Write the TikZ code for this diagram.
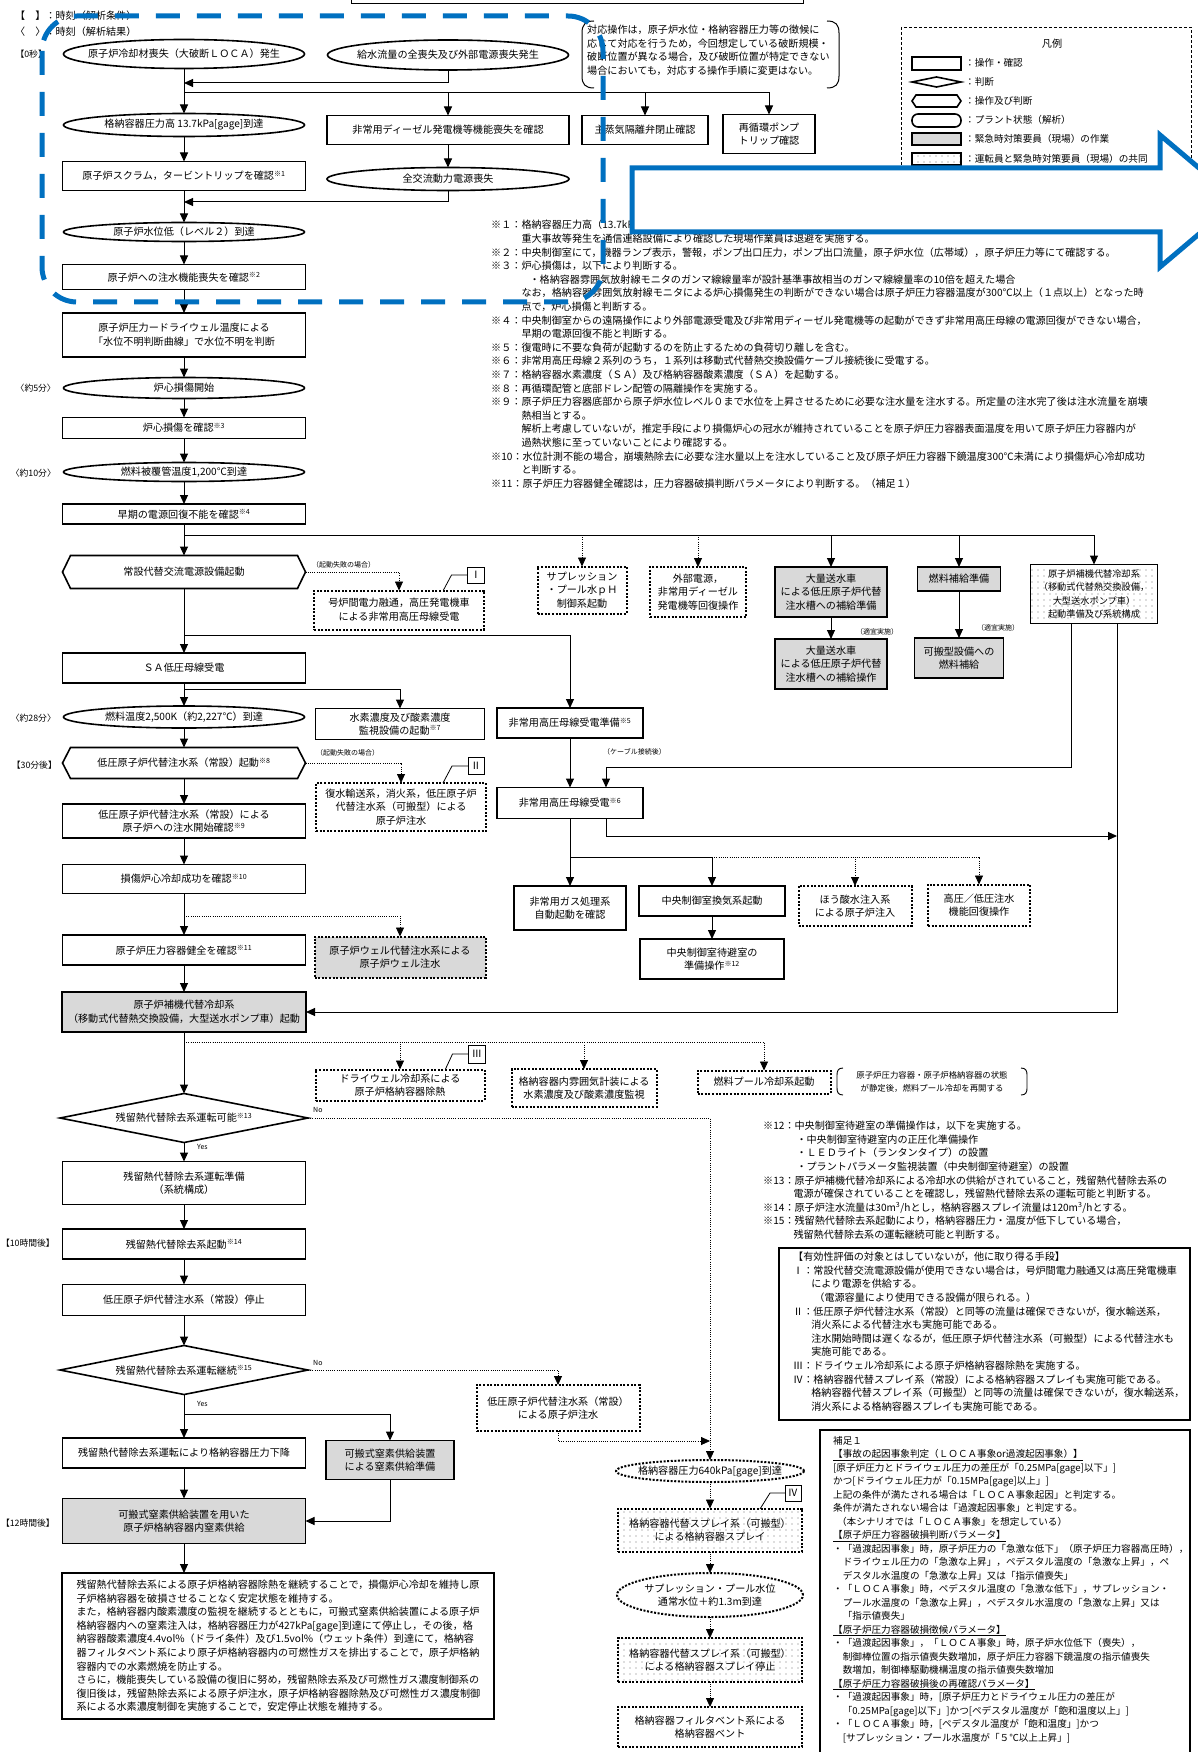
\documentclass[tikz,border=0pt]{standalone}
\usepackage{fontspec}
\setmainfont{Noto Sans CJK JP}
\usetikzlibrary{arrows.meta,patterns,calc}
\definecolor{bl}{RGB}{0,112,192}
\newcommand\fsz{\fontsize{10.1pt}{13.6pt}\selectfont}
\newcommand\fsq{\fontsize{9.6pt}{13.5pt}\selectfont}
\newcommand\fss{\fontsize{9.2pt}{13.3pt}\selectfont}
\newcommand\fsk{\fontsize{8.8pt}{11pt}\selectfont}
\newcommand\fst{\fontsize{7pt}{8pt}\selectfont}
\newcommand\fsb{\fontsize{8.4pt}{13pt}\selectfont}
\newcommand\sn[1]{\textsuperscript{※#1}}
\pgfdeclarepatternformonly{sparsedots}{\pgfqpoint{-1pt}{-1pt}}{\pgfqpoint{1pt}{1pt}}{\pgfqpoint{6pt}{6pt}}{\pgfpathcircle{\pgfqpoint{0pt}{0pt}}{0.55pt}\pgfusepath{fill}}
\tikzset{
 base/.style={font=\fsz, align=center, inner sep=0pt, outer sep=0pt},
 wh/.style 2 args={minimum width=#1pt, minimum height=#2pt},
 box/.style={base, draw, line width=1.6pt},
 gbox/.style={box, fill=black!15},
 dbox/.style={base, draw, line width=2pt, dash pattern=on 2pt off 1.6pt},
 pbox/.style={pattern=sparsedots, pattern color=black!55},
 hold/.style={base},
 sline/.style={line width=1.6pt},
 dotline/.style={line width=2pt, dash pattern=on 2pt off 1.6pt},
 ln/.style={line width=1pt},
 arr/.style={ln, -{Triangle[length=9pt,width=8pt]}},
 dln/.style={line width=0.8pt, dash pattern=on 1pt off 1.2pt},
 darr/.style={dln, -{Triangle[length=9pt,width=8pt]}},
 lbl/.style={font=\fst, inner sep=0pt, anchor=west},
 note/.style={font=\fsz, inner sep=0pt, anchor=west},
 tlab/.style={font=\fsk, inner sep=0pt, anchor=east},
 rom/.style={base, draw, line width=0.8pt},
 txt/.style={font=\fsz, align=left, inner sep=0pt, anchor=north west},
 leader/.style={line width=0.8pt},
}
\begin{document}
\begin{tikzpicture}[x=1pt,y=-1pt]
\useasboundingbox (0,0) rectangle (1198,1752);
\fill[white] (0,0) rectangle (1198,1752);

% ---------- top fragments ----------
\draw[line width=1pt] (351,-5) rectangle (803,4);
\node[note] (leg1) at (15,16) {【　】：時刻（解析条件）};
\node[note] (leg2) at (15,32) {〈　〉：時刻（解析結果）};
\node[tlab] (t0) at (47,54) {【0秒】};
\node[tlab] (t5) at (56,388) {〈約5分〉};
\node[tlab] (t10) at (56,473) {〈約10分〉};
\node[tlab] (t28) at (56,718) {〈約28分〉};
\node[tlab] (t30) at (57,765) {【30分後】};
\node[tlab] (t10h) at (55,1243) {【10時間後】};
\node[tlab] (t12h) at (55,1523) {【12時間後】};

% ---------- main column ----------
\node[hold,wh={241}{29}] (e1) at (184,54) {原子炉冷却材喪失（大破断ＬＯＣＡ）発生};
\node[hold,wh={241}{30}] (e2) at (448,55) {給水流量の全喪失及び外部電源喪失発生};
\node[hold,wh={241}{23}] (e3) at (184,125) {格納容器圧力高 13.7kPa[gage]到達};
\node[box,wh={242}{29}] (bdg) at (448,130) {非常用ディーゼル発電機等機能喪失を確認};
\node[box,wh={126}{29}] (bmsiv) at (645,130) {主蒸気隔離弁閉止確認};
\node[box,wh={92}{39}] (brcp) at (769,134) {再循環ポンプ\\トリップ確認};
\node[box,wh={243}{29}] (bscram) at (184,176) {原子炉スクラム，タービントリップを確認\sn{1}};
\node[hold,wh={242}{23}] (esbo) at (448,179) {全交流動力電源喪失};
\node[hold,wh={241}{19}] (el2) at (184,232) {原子炉水位低（レベル２）到達};
\node[box,wh={243}{25}] (binj) at (184,277) {原子炉への注水機能喪失を確認\sn{2}};
\node[box,wh={243}{44}] (bunk) at (184,335) {原子炉圧力ードライウェル温度による\\「水位不明判断曲線」で水位不明を判断};
\node[hold,wh={241}{21}] (ecd) at (184,388) {炉心損傷開始};
\node[box,wh={243}{21}] (bcd) at (184,428) {炉心損傷を確認\sn{3}};
\node[hold,wh={241}{19}] (e12) at (184,472) {燃料被覆管温度1,200℃到達};
\node[box,wh={243}{20}] (bpw) at (184,514) {早期の電源回復不能を確認\sn{4}};
\node[hold,wh={243}{33}] (hac) at (184,572) {常設代替交流電源設備起動};
\node[dbox,wh={170}{39}] (dI) at (399,610) {号炉間電力融通，高圧発電機車\\による非常用高圧母線受電};
\node[rom,wh={17}{16}] (rI) at (476,575) {Ⅰ};
\node[box,wh={243}{30}] (bsa) at (184,668) {ＳＡ低圧母線受電};
\node[hold,wh={241}{22}] (e25) at (184,717) {燃料温度2,500K（約2,227℃）到達};
\node[box,wh={169}{31}] (bh2) at (400,724) {水素濃度及び酸素濃度\\監視設備の起動\sn{7}};
\node[hold,wh={243}{31}] (hlp) at (184,763) {低圧原子炉代替注水系（常設）起動\sn{8}};
\node[dbox,wh={170}{48}] (dII) at (401,807) {復水輸送系，消火系，低圧原子炉\\代替注水系（可搬型）による\\原子炉注水};
\node[rom,wh={16}{17}] (rII) at (476,766) {Ⅱ};
\node[box,wh={243}{34}] (blpi) at (184,821) {低圧原子炉代替注水系（常設）による\\原子炉への注水開始確認\sn{9}};
\node[box,wh={243}{29}] (bcool) at (184,879) {損傷炉心冷却成功を確認\sn{10}};
\node[box,wh={243}{30}] (brpv) at (184,950) {原子炉圧力容器健全を確認\sn{11}};
\node[dbox,fill=black!15,wh={171}{41}] (dwell) at (400,957) {原子炉ウェル代替注水系による\\原子炉ウェル注水};
\node[gbox,wh={244}{40}] (brcw) at (184,1012) {原子炉補機代替冷却系\\（移動式代替熱交換設備，大型送水ポンプ車）起動};
\node[dbox,wh={169}{31}] (ddw) at (400,1085) {ドライウェル冷却系による\\原子炉格納容器除熱};
\node[rom,wh={17}{18}] (rIII) at (477,1054) {Ⅲ};
\node[dbox,wh={145}{38}] (dmon) at (584,1088) {格納容器内雰囲気計装による\\水素濃度及び酸素濃度監視};
\node[dbox,wh={133}{23}] (dfpc) at (764,1082) {燃料プール冷却系起動};
\node[base,font=\fsb] (nfpc) at (932,1082) {原子炉圧力容器・原子炉格納容器の状態\\が静定後，燃料プール冷却を再開する};
\node[hold,wh={248}{49}] (dia1) at (184,1118) {残留熱代替除去系運転可能\sn{13}};
\node[box,wh={243}{43}] (bprep) at (184,1183) {残留熱代替除去系運転準備\\（系統構成）};
\node[box,wh={243}{30}] (bstart) at (184,1244) {残留熱代替除去系起動\sn{14}};
\node[box,wh={243}{31}] (bstop) at (184,1300) {低圧原子炉代替注水系（常設）停止};
\node[hold,wh={248}{49}] (dia2) at (184,1370) {残留熱代替除去系運転継続\sn{15}};
\node[dbox,wh={163}{46}] (dlpi2) at (558,1408) {低圧原子炉代替注水系（常設）\\による原子炉注水};
\node[box,wh={243}{30}] (bdown) at (184,1453) {残留熱代替除去系運転により格納容器圧力下降};
\node[gbox,wh={128}{39}] (bn2p) at (390,1460) {可搬式窒素供給装置\\による窒素供給準備};
\node[gbox,wh={243}{45}] (bn2) at (184,1521) {可搬式窒素供給装置を用いた\\原子炉格納容器内窒素供給};
\node[box,wh={432}{146},align=left,text width=403pt] (bfin) at (278,1646) {残留熱代替除去系による原子炉格納容器除熱を継続することで，損傷炉心冷却を維持し原\\子炉格納容器を破損させることなく安定状態を維持する。\\また，格納容器内酸素濃度の監視を継続するとともに，可搬式窒素供給装置による原子炉\\格納容器内への窒素注入は，格納容器圧力が427kPa[gage]到達にて停止し，その後，格\\納容器酸素濃度4.4vol\%（ドライ条件）及び1.5vol\%（ウェット条件）到達にて，格納容\\器フィルタベント系により原子炉格納容器内の可燃性ガスを排出することで，原子炉格納\\容器内での水素燃焼を防止する。\\さらに，機能喪失している設備の復旧に努め，残留熱除去系及び可燃性ガス濃度制御系の\\復旧後は，残留熱除去系による原子炉注水，原子炉格納容器除熱及び可燃性ガス濃度制御\\系による水素濃度制御を実施することで，安定停止状態を維持する。};

% ---------- right part ----------
\node[dbox,wh={89}{47}] (dsp) at (582,590) {サプレッション\\・プール水ｐＨ\\制御系起動};
\node[dbox,wh={96}{50}] (dext) at (698,592) {外部電源，\\非常用ディーゼル\\発電機等回復操作};
\node[gbox,wh={112}{50}] (gt1) at (831,592) {大量送水車\\による低圧原子炉代替\\注水槽への補給準備};
\node[gbox,wh={112}{50}] (gt2) at (831,664) {大量送水車\\による低圧原子炉代替\\注水槽への補給操作};
\node[gbox,wh={83}{24}] (gf1) at (959,579) {燃料補給準備};
\node[gbox,wh={89}{40}] (gf2) at (959,658) {可搬型設備への\\燃料補給};
\node[box,pbox,font=\fss,wh={127}{59}] (prcw) at (1094,594) {原子炉補機代替冷却系\\（移動式代替熱交換設備，\\大型送水ポンプ車）\\起動準備及び系統構成};
\node[box,wh={146}{30}] (bhvp) at (570,723) {非常用高圧母線受電準備\sn{5}};
\node[box,wh={146}{31}] (bhv) at (570,803) {非常用高圧母線受電\sn{6}};
\node[box,wh={112}{44}] (bsgts) at (570,908) {非常用ガス処理系\\自動起動を確認};
\node[box,wh={146}{30}] (bmcr) at (712,901) {中央制御室換気系起動};
\node[box,wh={144}{40}] (bmcr2) at (712,959) {中央制御室待避室の\\準備操作\sn{12}};
\node[dbox,wh={113}{40}] (dbor) at (855,906) {ほう酸水注入系\\による原子炉注入};
\node[dbox,wh={102}{41}] (dhl) at (979,905) {高圧／低圧注水\\機能回復操作};

\node[hold,wh={188}{22}] (e640) at (710,1471) {格納容器圧力640kPa[gage]到達};
\node[rom,wh={16}{16}] (rIV) at (793,1493) {Ⅳ};
\node[dbox,pbox,wh={184}{43}] (pspr) at (710,1530) {格納容器代替スプレイ系（可搬型）\\による格納容器スプレイ};
\node[hold,wh={186}{44}] (esp) at (710,1595) {サプレッション・プール水位\\通常水位＋約1.3m到達};
\node[dbox,pbox,wh={184}{44}] (pstop) at (710,1660) {格納容器代替スプレイ系（可搬型）\\による格納容器スプレイ停止};
\node[dbox,wh={184}{40}] (dvent) at (710,1727) {格納容器フィルタベント系による\\格納容器ベント};

% small labels
\node[lbl] (f1) at (312,565) {（起動失敗の場合）};
\node[lbl] (f2) at (316,753) {（起動失敗の場合）};
\node[lbl] (a1) at (856,632) {（適宜実施）};
\node[lbl] (a2) at (977,628) {（適宜実施）};
\node[lbl] (cab) at (603,752) {（ケーブル接続後）};
\node[lbl] (no1) at (313,1110) {No};
\node[lbl] (no2) at (313,1363) {No};
\node[lbl] (yes1) at (197,1147) {Yes};
\node[lbl] (yes2) at (197,1404) {Yes};

% ---------- shapes drawn around holder nodes ----------
\foreach \q in {hac,hlp}{\draw[sline] ([xshift=8pt]\q.north west) -- ([xshift=-8pt]\q.north east) -- (\q.east) -- ([xshift=-8pt]\q.south east) -- ([xshift=8pt]\q.south west) -- (\q.west) -- cycle;}
\foreach \q in {dia1,dia2}{\draw[sline] (\q.north) -- (\q.east) -- (\q.south) -- (\q.west) -- cycle;}
\foreach \q in {e1,e2,e3,esbo,el2,ecd,e12,e25}{\draw[sline] let \p0=(\q.center),\p1=(\q.east),\p2=(\q.north) in (\p0) ellipse [x radius={\x1-\x0}, y radius={\y2-\y0}];}
\foreach \q in {e640,esp}{\draw[dotline] let \p0=(\q.center),\p1=(\q.east),\p2=(\q.north) in (\p0) ellipse [x radius={\x1-\x0}, y radius={\y2-\y0}];}

% ---------- connectors ----------
\coordinate (j1) at (184,83);
\coordinate (j2) at (184,93);
\coordinate (j3) at (184,202);
\coordinate (j4) at (184,535);
\coordinate (j5) at (184,635);
\coordinate (j6) at (184,689);
\coordinate (j7) at (184,916);
\coordinate (j8) at (184,1042);
\coordinate (j9) at (710,1441);
\coordinate (j10) at (184,1414);
\coordinate (j11) at (570,857);
\coordinate (cA) at (606,767);
\coordinate (cB) at (1117,836);

\draw[arr] (e1.south) -- (e3.north);
\draw[arr] (e2.south) |- (j1);
\draw[arr] (j2) -| (bdg.north);
\draw[arr] (j2) -| (bmsiv.north);
\draw[arr] (j2) -| (brcp.north);
\draw[arr] (bdg.south) -- (esbo.north);
\draw[arr] (e3.south) -- (bscram.north);
\draw[arr] (bscram.south) -- (el2.north);
\draw[arr] (esbo.south) |- (j3);
\draw[arr] (el2.south) -- (binj.north);
\draw[arr] (binj.south) -- (bunk.north);
\draw[arr] (bunk.south) -- (ecd.north);
\draw[arr] (ecd.south) -- (bcd.north);
\draw[arr] (bcd.south) -- (e12.north);
\draw[arr] (e12.south) -- (bpw.north);
\draw[arr] (bpw.south) -- (hac.north);
\draw[arr] (j4) -| (prcw.north);
\draw[arr] (gt1.north |- j4) -- (gt1.north);
\draw[arr] (gf1.north |- j4) -- (gf1.north);
\draw[darr] (dsp.north |- j4) -- (dsp.north);
\draw[darr] (dext.north |- j4) -- (dext.north);
\draw[darr] (hac.east) -| (dI.north);
\draw[leader] (rI.west) -- ++(-16,0) -- ++(-8,15);
\draw[arr] (hac.south) -- (bsa.north);
\draw[arr] (j5) -| (bhvp.north);
\draw[arr] (bsa.south) -- (e25.north);
\draw[arr] (j6) -| (bh2.north);
\draw[arr] (e25.south) -- (hlp.north);
\draw[darr] (hlp.east) -| (dII.north);
\draw[leader] (rII.west) -- ++(-16,0) -- ++(-9,17);
\draw[arr] (hlp.south) -- (blpi.north);
\draw[arr] (blpi.south) -- (bcool.north);
\draw[arr] (bcool.south) -- (brpv.north);
\draw[darr] (j7) -| (dwell.north);
\draw[arr] (brpv.south) -- (brcw.north);
\draw[arr] (brcw.south) -- (dia1.north);
\draw[darr] (j8) -| (ddw.north);
\draw[darr] (j8) -| (dmon.north);
\draw[darr] (j8) -| (dfpc.north);
\draw[leader] (rIII.west) -- ++(-16,0) -- ++(-7,15);
\draw[darr] (dia1.east) -| (e640.north);
\draw[arr] (dia1.south) -- (bprep.north);
\draw[arr] (bprep.south) -- (bstart.north);
\draw[arr] (bstart.south) -- (bstop.north);
\draw[arr] (bstop.south) -- (dia2.north);
\draw[darr] (dia2.east) -| (dlpi2.north);
\draw[darr] (dlpi2.south) |- (j9);
\draw[arr] (dia2.south) -- (bdown.north);
\draw[arr] (j10) -| (bn2p.north);
\draw[arr] (bdown.south) -- (bn2.north);
\draw[arr] (bn2p.south) |- (bn2.east);
\draw[arr] (bn2.south) -- (bn2.south |- bfin.north);
\draw[arr] (gt1.south) -- (gt2.north);
\draw[arr] (gf1.south) -- (gf2.north);
\draw[arr] ([xshift=-23pt]prcw.south) |- (cA) -- (cA |- bhv.north);
\draw[arr] ([xshift=23pt]prcw.south) |- (brcw.east);
\draw[arr] (bhvp.south) -- (bhv.north);
\draw[arr] (cA |- bhv.south) |- (cB);
\draw[arr] (bhv.south) -- (bsgts.north);
\draw[arr] (j11) -| (bmcr.north);
\draw[darr] (bmcr.north |- j11) -| (dbor.north);
\draw[darr] (bmcr.north |- j11) -| (dhl.north);
\draw[arr] (bmcr.south) -- (bmcr2.north);
\draw[darr] (e640.south) -- (pspr.north);
\draw[darr] (pspr.south) -- (esp.north);
\draw[darr] (esp.south) -- (pstop.north);
\draw[darr] (pstop.south) -- (dvent.north);
\draw[leader] (rIV.west) -- ++(-15,0) -- ++(-10,16);

% bracket around fuel pool note
\draw[line width=0.9pt] (843,1068) .. controls (838,1068) and (837,1071) .. (837,1075) -- (837,1088) .. controls (837,1092) and (838,1095) .. (843,1095);
\draw[line width=0.9pt] (1021,1068) .. controls (1026,1068) and (1027,1071) .. (1027,1075) -- (1027,1088) .. controls (1027,1092) and (1026,1095) .. (1021,1095);

% ---------- notes ----------
\node[txt] (ntop) at (587,25) {対応操作は，原子炉水位・格納容器圧力等の徴候に\\応じて対応を行うため，今回想定している破断規模・\\破断位置が異なる場合，及び破断位置が特定できない\\場合においても，対応する操作手順に変更はない。};
\draw[line width=1pt] (594,21) .. controls (585,21) and (582,25) .. (582,33) -- (582,76) .. controls (582,84) and (585,88) .. (594,88);
\draw[line width=1pt] (827,21) .. controls (836,21) and (839,25) .. (839,33) -- (839,76) .. controls (839,84) and (836,88) .. (827,88);

\node[txt] (notes1) at (491,220) {※１：格納容器圧力高（13.7kPa[gage]）\\
\hspace*{3em}重大事故等発生を通信連絡設備により確認した現場作業員は退避を実施する。\\
※２：中央制御室にて，機器ランプ表示，警報，ポンプ出口圧力，ポンプ出口流量，原子炉水位（広帯域），原子炉圧力等にて確認する。\\
※３：炉心損傷は，以下により判断する。\\
\hspace*{3.8em}・格納容器雰囲気放射線モニタのガンマ線線量率が設計基準事故相当のガンマ線線量率の10倍を超えた場合\\
\hspace*{3em}なお，格納容器雰囲気放射線モニタによる炉心損傷発生の判断ができない場合は原子炉圧力容器温度が300℃以上（１点以上）となった時\\
\hspace*{3em}点で，炉心損傷と判断する。\\
※４：中央制御室からの遠隔操作により外部電源受電及び非常用ディーゼル発電機等の起動ができず非常用高圧母線の電源回復ができない場合，\\
\hspace*{3em}早期の電源回復不能と判断する。\\
※５：復電時に不要な負荷が起動するのを防止するための負荷切り離しを含む。\\
※６：非常用高圧母線２系列のうち，１系列は移動式代替熱交換設備ケーブル接続後に受電する。\\
※７：格納容器水素濃度（ＳＡ）及び格納容器酸素濃度（ＳＡ）を起動する。\\
※８：再循環配管と底部ドレン配管の隔離操作を実施する。\\
※９：原子炉圧力容器底部から原子炉水位レベル０まで水位を上昇させるために必要な注水量を注水する。所定量の注水完了後は注水流量を崩壊\\
\hspace*{3em}熱相当とする。\\
\hspace*{3em}解析上考慮していないが，推定手段により損傷炉心の冠水が維持されていることを原子炉圧力容器表面温度を用いて原子炉圧力容器内が\\
\hspace*{3em}過熱状態に至っていないことにより確認する。\\
※10：水位計測不能の場合，崩壊熱除去に必要な注水量以上を注水していること及び原子炉圧力容器下鏡温度300℃未満により損傷炉心冷却成功\\
\hspace*{3em}と判断する。\\
※11：原子炉圧力容器健全確認は，圧力容器破損判断パラメータにより判断する。（補足１）};

\node[txt] (notes2) at (763,1121) {※12：中央制御室待避室の準備操作は，以下を実施する。\\
\hspace*{3.3em}・中央制御室待避室内の正圧化準備操作\\
\hspace*{3.3em}・ＬＥＤライト（ランタンタイプ）の設置\\
\hspace*{3.3em}・プラントパラメータ監視装置（中央制御室待避室）の設置\\
※13：原子炉補機代替冷却系による冷却水の供給がされていること，残留熱代替除去系の\\
\hspace*{3em}電源が確保されていることを確認し，残留熱代替除去系の運転可能と判断する。\\
※14：原子炉注水流量は30m\textsuperscript{3}/hとし，格納容器スプレイ流量は120m\textsuperscript{3}/hとする。\\
※15：残留熱代替除去系起動により，格納容器圧力・温度が低下している場合，\\
\hspace*{3em}残留熱代替除去系の運転継続可能と判断する。};

\draw[line width=1.1pt] (779,1248) rectangle (1190,1420);
\node[txt] (notes3) at (793,1252) {【有効性評価の対象とはしていないが，他に取り得る手段】\\
Ⅰ：常設代替交流電源設備が使用できない場合は，号炉間電力融通又は高圧発電機車\\
\hspace*{1.8em}により電源を供給する。\\
\hspace*{2.1em}（電源容量により使用できる設備が限られる。）\\
Ⅱ：低圧原子炉代替注水系（常設）と同等の流量は確保できないが，復水輸送系，\\
\hspace*{1.8em}消火系による代替注水も実施可能である。\\
\hspace*{1.8em}注水開始時間は遅くなるが，低圧原子炉代替注水系（可搬型）による代替注水も\\
\hspace*{1.8em}実施可能である。\\
Ⅲ：ドライウェル冷却系による原子炉格納容器除熱を実施する。\\
Ⅳ：格納容器代替スプレイ系（常設）による格納容器スプレイも実施可能である。\\
\hspace*{1.8em}格納容器代替スプレイ系（可搬型）と同等の流量は確保できないが，復水輸送系，\\
\hspace*{1.8em}消火系による格納容器スプレイも実施可能である。};

\draw[line width=1.1pt] (820,1760) -- (820,1430) -- (1190,1430) -- (1190,1760);
\node[txt,font=\fsq] (notes4) at (833,1436) {補足１\\
\underline{【事故の起因事象判定（ＬＯＣＡ事象or過渡起因事象）】}\\
{}[原子炉圧力とドライウェル圧力の差圧が「0.25MPa[gage]以下」]\\
かつ[ドライウェル圧力が「0.15MPa[gage]以上」]\\
上記の条件が満たされる場合は「ＬＯＣＡ事象起因」と判定する。\\
条件が満たされない場合は「過渡起因事象」と判定する。\\
\hspace*{0.4em}（本シナリオでは「ＬＯＣＡ事象」を想定している）\\
\underline{【原子炉圧力容器破損判断パラメータ】}\\
・「過渡起因事象」時，原子炉圧力の「急激な低下」（原子炉圧力容器高圧時），\\
\hspace*{1em}ドライウェル圧力の「急激な上昇」，ペデスタル温度の「急激な上昇」，ペ\\
\hspace*{1em}デスタル水温度の「急激な上昇」又は「指示値喪失」\\
・「ＬＯＣＡ事象」時，ペデスタル温度の「急激な低下」，サプレッション・\\
\hspace*{1em}プール水温度の「急激な上昇」，ペデスタル水温度の「急激な上昇」又は\\
\hspace*{1em}「指示値喪失」\\
\underline{【原子炉圧力容器破損徴候パラメータ】}\\
・「過渡起因事象」，「ＬＯＣＡ事象」時，原子炉水位低下（喪失），\\
\hspace*{1em}制御棒位置の指示値喪失数増加，原子炉圧力容器下鏡温度の指示値喪失\\
\hspace*{1em}数増加，制御棒駆動機構温度の指示値喪失数増加\\
\underline{【原子炉圧力容器破損後の再確認パラメータ】}\\
・「過渡起因事象」時，[原子炉圧力とドライウェル圧力の差圧が\\
\hspace*{1em}「0.25MPa[gage]以下」]かつ[ペデスタル温度が「飽和温度以上」]\\
・「ＬＯＣＡ事象」時，[ペデスタル温度が「飽和温度」]かつ\\
\hspace*{1em}[サプレッション・プール水温度が「５℃以上上昇」]};

% ---------- legend ----------
\draw[line width=0.8pt, dash pattern=on 3pt off 2pt] (901,27) rectangle (1191,190);
\node[base] (lgt) at (1052,44) {凡例};
\draw[sline] (912,57) rectangle (961,70);
\draw[sline] (912,82) -- (936.5,77) -- (961,82) -- (936.5,87) -- cycle;
\draw[sline] (916,95) -- (957,95) -- (961,101) -- (957,107) -- (916,107) -- (912,101) -- cycle;
\draw[sline, rounded corners=6pt] (912,114) rectangle (961,127);
\draw[sline, fill=black!15] (912,133) rectangle (961,145);
\draw[sline, pbox] (912,153) rectangle (961,165);
\node[note,font=\fsq] (lg1) at (965,63) {：操作・確認};
\node[note,font=\fsq] (lg2) at (965,82) {：判断};
\node[note,font=\fsq] (lg3) at (965,101) {：操作及び判断};
\node[note,font=\fsq] (lg4) at (965,120) {：プラント状態（解析）};
\node[note,font=\fsq] (lg5) at (965,139) {：緊急時対策要員（現場）の作業};
\node[note,font=\fsq] (lg6) at (965,159) {：運転員と緊急時対策要員（現場）の共同};

% ---------- blue overlays ----------
\draw[bl, line width=5pt, dash pattern=on 24pt off 17pt, rounded corners=35pt] (42,16) rectangle (603,302);
\draw[bl, line width=5pt, fill=white, line join=miter] (632,168) -- (1160,168) -- (1160,135) -- (1238,201) -- (1160,267) -- (1160,232) -- (632,232) -- cycle;
\end{tikzpicture}
\end{document}
